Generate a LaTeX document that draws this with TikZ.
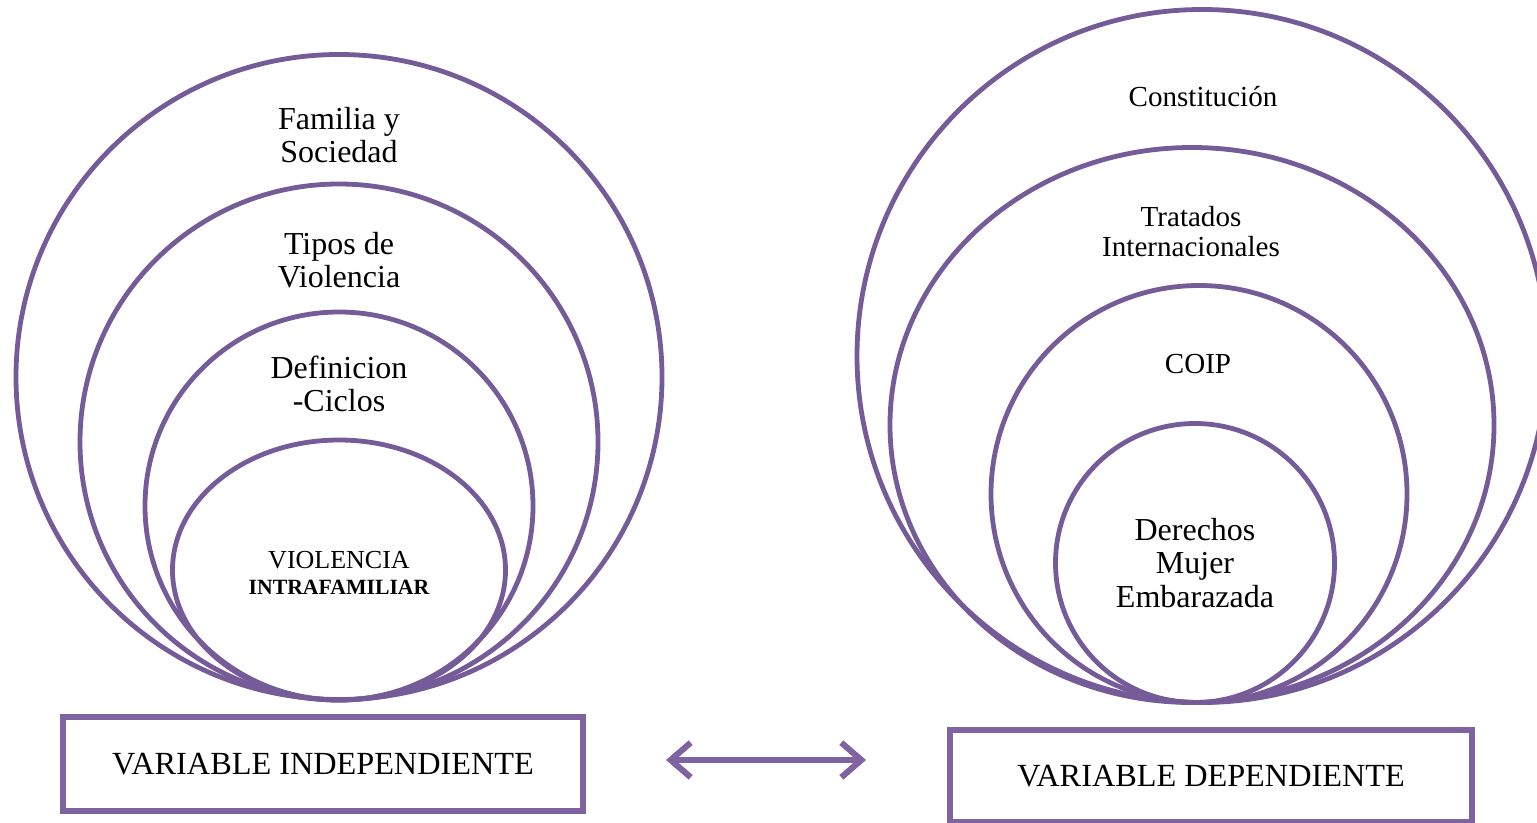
\documentclass[tikz,border=0pt]{standalone}
\usepackage{fontspec}
\setmainfont{Liberation Serif}
\usepackage{xcolor}
\usepackage{tikz}
\usetikzlibrary{shapes.geometric, arrows.meta, positioning}
\definecolor{morado}{RGB}{128,100,162}
\definecolor{moradoosc}{RGB}{117,92,152}
\tikzstyle{anillo} = [ellipse, draw=moradoosc, line width=3.6pt, inner sep=0pt, fill=none]
\tikzstyle{etiqueta} = [align=center, text=black, inner sep=0pt, font=\fontsize{24}{24.8}\selectfont]
\tikzstyle{etiquetad} = [align=center, text=black, inner sep=0pt, font=\fontsize{21.8}{22.5}\selectfont]
\tikzstyle{caja} = [rectangle, draw=morado, line width=4pt, inner sep=0pt, font=\fontsize{24.2}{25}\selectfont]
\tikzstyle{flecha} = [draw=morado, line width=4.6pt, line cap=round, {Straight Barb[length=15pt, width=26pt]}-{Straight Barb[length=15pt, width=26pt]}]

\begin{document}
\begin{tikzpicture}[x=0.75pt, y=-0.75pt]
        \useasboundingbox (0,0) rectangle (1537,823);
        % Nodes - variable independiente
        \node [anillo, minimum width=646pt*0.75, minimum height=645pt*0.75] (familia) at (339,377) {};
        \node [anillo, minimum width=518pt*0.75, minimum height=516pt*0.75] (tipos) at (339,442) {};
        \node [anillo, minimum width=388pt*0.75, minimum height=388pt*0.75] (definicion) at (339,506) {};
        \node [anillo, minimum width=333pt*0.75, minimum height=260pt*0.75] (violencia) at (339,570) {};
        \node [etiqueta] at (339,135) {Familia y\\Sociedad};
        \node [etiqueta] at (339,260) {Tipos de\\Violencia};
        \node [etiqueta] at (339,384) {Definicion\\-Ciclos};
        \node [etiqueta, font=\fontsize{19.5}{19.5}\selectfont] at (339,573) {VIOLENCIA\\\fontsize{16.3}{17}\selectfont\bfseries INTRAFAMILIAR};
        \node [caja, minimum width=520pt*0.75, minimum height=94pt*0.75] (indep) at (323,764) {VARIABLE INDEPENDIENTE};

        % Nodes - variable dependiente
        \node [anillo, minimum width=690pt*0.75, minimum height=693pt*0.75] (constitucion) at (1202,356) {};
        \node [anillo, minimum width=604pt*0.75, minimum height=555pt*0.75] (tratados) at (1192,425) {};
        \node [anillo, minimum width=416pt*0.75, minimum height=417pt*0.75] (coip) at (1199,494) {};
        \node [anillo, minimum width=279pt*0.75, minimum height=279pt*0.75] (derechos) at (1195,563) {};
        \node [etiquetad] at (1203,97) {Constitución};
        \node [etiquetad] at (1191,232) {Tratados\\Internacionales};
        \node [etiquetad] at (1198,364) {COIP};
        \node [etiqueta] at (1195,563) {Derechos\\Mujer\\Embarazada};
        \node [caja, minimum width=522pt*0.75, minimum height=92pt*0.75] (dep) at (1211,776) {VARIABLE DEPENDIENTE};

        % Arrows
        \coordinate (izq) at (666,760);
        \coordinate (der) at (866,760);
        \draw [flecha] (izq) -- (der);
    \end{tikzpicture}
\end{document}
